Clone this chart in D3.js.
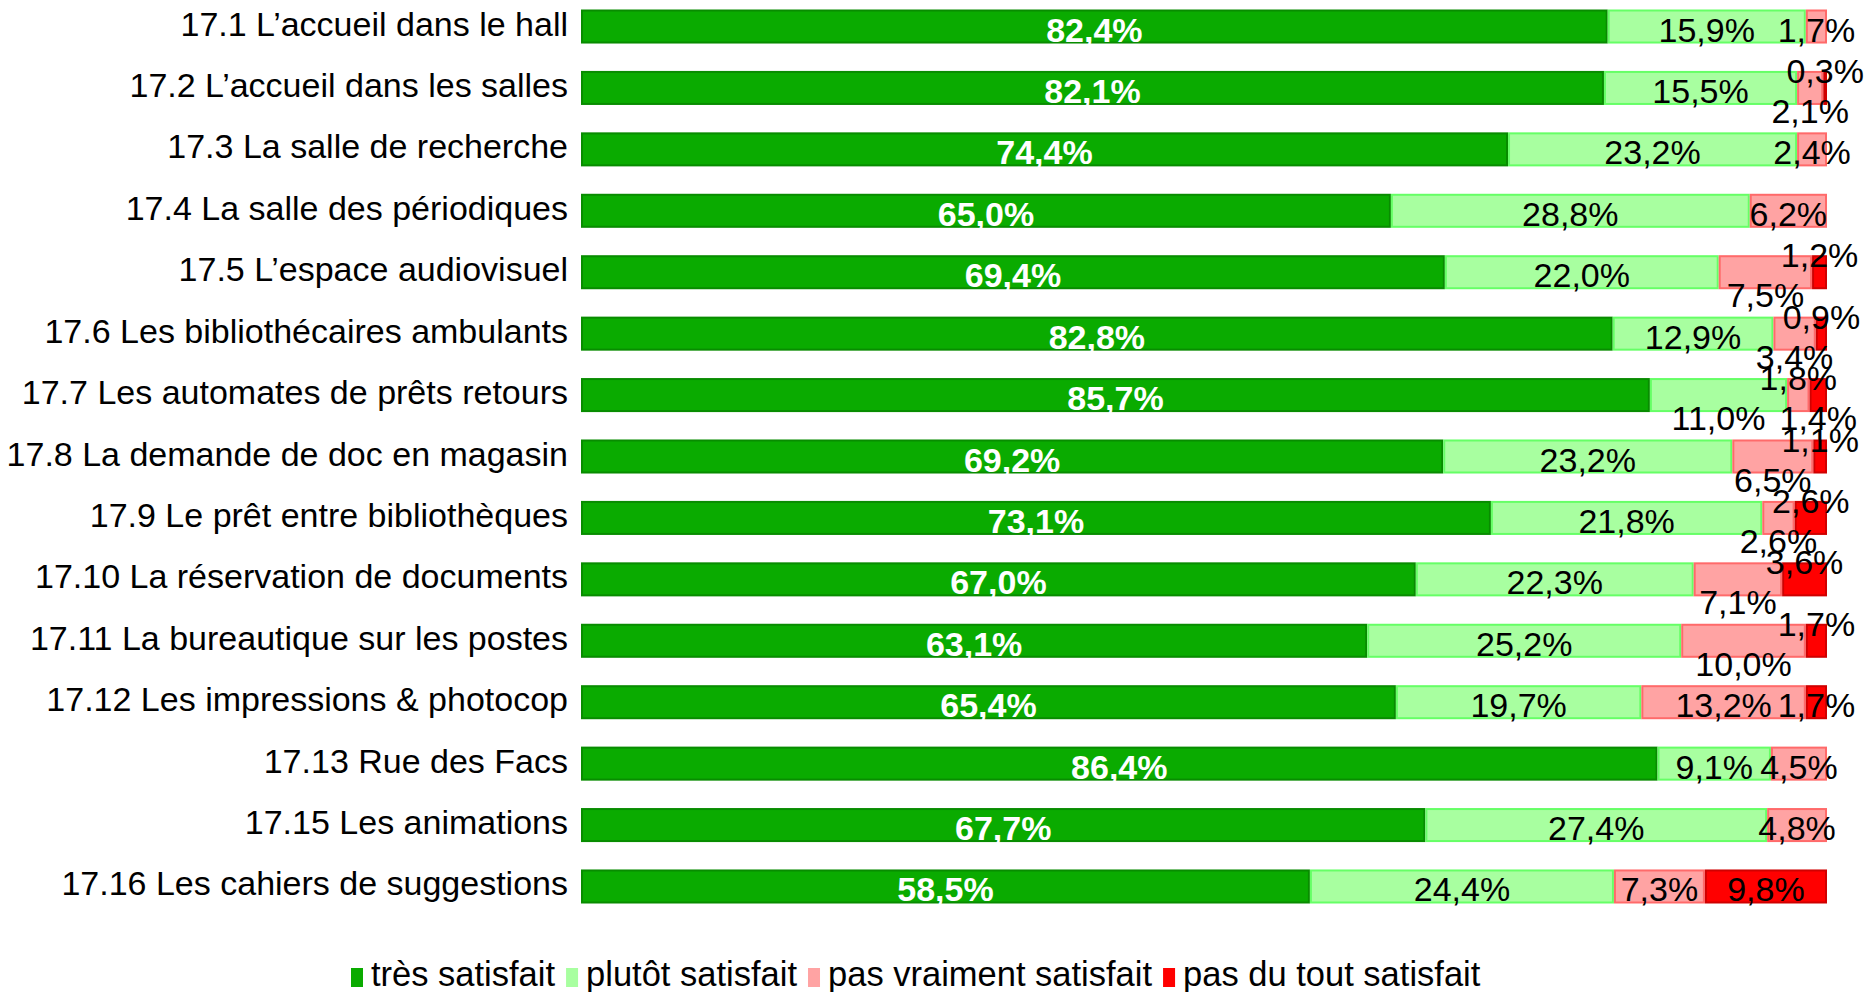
<!DOCTYPE html>
<html lang="fr">
<head>
<meta charset="utf-8">
<script src="https://cdn.jsdelivr.net/npm/d3@7"></script>
<style>
  html, body { margin: 0; padding: 0; background: #fff; }
  svg { display: block; font-family: "Liberation Sans", Arial, sans-serif; }
</style>
</head>
<body>
<svg id="chart" width="1876" height="992"></svg>
<script>
// Survey items (one bar per item)
const categories = [
  "17.1 L\u2019accueil dans le hall",
  "17.2 L\u2019accueil dans les salles",
  "17.3 La salle de recherche",
  "17.4 La salle des périodiques",
  "17.5 L\u2019espace audiovisuel",
  "17.6 Les bibliothécaires ambulants",
  "17.7 Les automates de prêts retours",
  "17.8 La demande de doc en magasin",
  "17.9 Le prêt entre bibliothèques",
  "17.10 La réservation de documents",
  "17.11 La bureautique sur les postes",
  "17.12 Les impressions & photocop",
  "17.13 Rue des Facs",
  "17.15 Les animations",
  "17.16 Les cahiers de suggestions"
];

// Answer levels (legend order = stacking order)
const seriesNames = ["très satisfait", "plutôt satisfait", "pas vraiment satisfait", "pas du tout satisfait"];

// Percentages per level, in the order of `categories`
const tresSatisfait    = [82.4, 82.1, 74.4, 65.0, 69.4, 82.8, 85.7, 69.2, 73.1, 67.0, 63.1, 65.4, 86.4, 67.7, 58.5];
const plutotSatisfait  = [15.9, 15.5, 23.2, 28.8, 22.0, 12.9, 11.0, 23.2, 21.8, 22.3, 25.2, 19.7,  9.1, 27.4, 24.4];
const pasVraiment      = [ 1.7,  2.1,  2.4,  6.2,  7.5,  3.4,  1.8,  6.5,  2.6,  7.1, 10.0, 13.2,  4.5,  4.8,  7.3];
const pasDuTout        = [ 0.0,  0.3,  0.0,  0.0,  1.2,  0.9,  1.4,  1.1,  2.6,  3.6,  1.7,  1.7,  0.0,  0.0,  9.8];

const seriesValues = [tresSatisfait, plutotSatisfait, pasVraiment, pasDuTout];

// Visual styling per level
const fills   = ["#0aab00", "#a8ffa0", "#ffa3a3", "#ff0000"];
const strokes = ["#088c00", "#66ff66", "#ff6a6a", "#d00000"];

// Label placement for crowded segments: c = centred, u = raised above, d = dropped below
const labelPlacement = [
  "cccc", "ccdu", "cccc", "cccc", "ccdu",
  "ccdu", "cdud", "ccdu", "ccdu", "ccdu",
  "ccdu", "cccc", "cccc", "cccc", "cccc"
];

const FONT = 34;

const svg = d3.select("#chart");

const x = d3.scaleLinear().domain([0, 100]).range([581, 1827]);
const y = d3.scaleBand()
  .domain(categories)
  .range([9.5, 903.5])
  .paddingInner(0.446)
  .paddingOuter(0);

const fmt = v => d3.format(".1f")(v).replace(".", ",") + "%";

// Build stacked rows (normalised to the row total)
const rows = categories.map((cat, i) => {
  const vals = seriesValues.map(s => s[i]);
  const total = d3.sum(vals);
  let acc = 0;
  const segs = vals.map((v, k) => {
    const x0 = acc / total * 100;
    acc += v;
    const x1 = acc / total * 100;
    return { cat, row: i, k, value: v, x0, x1 };
  });
  return { cat, segs };
});

// Category labels
svg.append("g")
  .selectAll("text")
  .data(categories)
  .join("text")
  .attr("x", 568)
  .attr("y", d => y(d) + y.bandwidth() / 2 + 9)
  .attr("text-anchor", "end")
  .attr("font-size", FONT)
  .attr("fill", "#000")
  .text(d => d);

// Bars
const barG = svg.append("g");
rows.forEach(r => {
  barG.selectAll(null)
    .data(r.segs.filter(s => s.value > 0))
    .join("rect")
    .attr("x", s => x(s.x0) + 1)
    .attr("y", y(r.cat) + 1)
    .attr("width", s => Math.max(0, x(s.x1) - x(s.x0) - 2))
    .attr("height", y.bandwidth() - 2)
    .attr("fill", s => fills[s.k])
    .attr("stroke", s => strokes[s.k])
    .attr("stroke-width", 2);
});

// Value labels
const labelG = svg.append("g");
rows.forEach(r => {
  labelG.selectAll(null)
    .data(r.segs.filter(s => s.value > 0))
    .join("text")
    .attr("x", s => (x(s.x0) + x(s.x1)) / 2)
    .attr("y", s => {
      const c = y(r.cat) + y.bandwidth() / 2;
      const p = labelPlacement[s.row][s.k];
      if (p === "u") return c - 5;
      if (p === "d") return c + 35;
      return c + 15;
    })
    .attr("text-anchor", "middle")
    .attr("font-size", FONT)
    .attr("font-weight", s => s.k === 0 ? "bold" : "normal")
    .attr("fill", s => s.k === 0 ? "#fff" : "#000")
    .text(s => fmt(s.value));
});

// Legend
const legend = svg.append("g");
let lx = 351;
seriesNames.forEach((name, k) => {
  legend.append("rect")
    .attr("x", lx)
    .attr("y", 968)
    .attr("width", 12)
    .attr("height", 19)
    .attr("fill", fills[k]);
  const t = legend.append("text")
    .attr("x", lx + 20)
    .attr("y", 986)
    .attr("font-size", 34.5)
    .attr("fill", "#000")
    .text(name);
  lx += 20 + t.node().getComputedTextLength() + 11;
});
</script>
</body>
</html>
